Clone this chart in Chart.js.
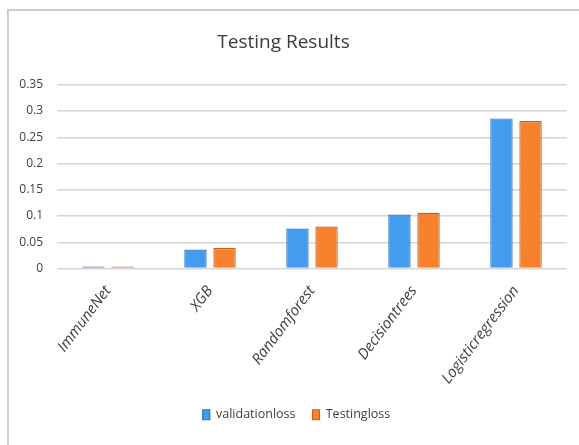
<!DOCTYPE html>
<html>
<head>
<meta charset="utf-8">
<script src="https://cdn.jsdelivr.net/npm/chart.js@4/dist/chart.umd.min.js"></script>
<style>
  html, body { margin: 0; padding: 0; background: #ffffff; }
  #wrap { position: relative; width: 579px; height: 445px; }
</style>
</head>
<body>
<div id="wrap"><canvas id="c" width="579" height="445"></canvas></div>
<script>
// Loss per model
const models = ['ImmuneNet', 'XGB', 'Randomforest', 'Decisiontrees', 'Logisticregression'];
const validationLoss = [0.004, 0.036, 0.076, 0.103, 0.286];
const testingLoss = [0.004, 0.039, 0.080, 0.106, 0.281];
const yTicks = [0, 0.05, 0.1, 0.15, 0.2, 0.25, 0.3, 0.35];

const FONT = "'Open Sans', 'DejaVu Sans', sans-serif";

// Light grey frame around the chart (left and top edges)
const framePlugin = {
  id: 'frame',
  beforeDraw(chart) {
    const ctx = chart.ctx;
    ctx.save();
    ctx.strokeStyle = '#cdcdcd';
    ctx.lineWidth = 2;
    ctx.beginPath();
    ctx.moveTo(8, 445);
    ctx.lineTo(8, 10);
    ctx.lineTo(579, 10);
    ctx.stroke();
    ctx.restore();
  }
};

// Centre the legend under the framed area rather than the padded canvas
const legendShift = {
  id: 'legendShift',
  afterLayout(chart) {
    if (chart.legend) {
      chart.legend.left += 13;
      chart.legend.right += 13;
    }
  }
};

new Chart(document.getElementById('c'), {
  type: 'bar',
  data: {
    labels: models,
    datasets: [
      {
        label: 'validationloss',
        data: validationLoss,
        backgroundColor: '#439cee',
        borderColor: '#2c6fc0',
        borderWidth: 1.2,
        categoryPercentage: 0.57,
        barPercentage: 0.77
      },
      {
        label: 'Testingloss',
        data: testingLoss,
        backgroundColor: '#f7812c',
        borderColor: '#c8601c',
        borderWidth: 1.2,
        categoryPercentage: 0.57,
        barPercentage: 0.77
      }
    ]
  },
  options: {
    responsive: false,
    animation: false,
    devicePixelRatio: 1,
    layout: { padding: { left: 0, right: 12, top: 31, bottom: 14 } },
    plugins: {
      title: {
        display: true,
        text: 'Testing Results',
        color: '#3a3a3a',
        font: { family: FONT, size: 19, weight: 'normal' },
        padding: { top: 0, bottom: 31 }
      },
      legend: {
        position: 'bottom',
        labels: {
          boxWidth: 7,
          boxHeight: 10,
          color: '#404040',
          font: { family: FONT, size: 12.5 },
          padding: 17
        }
      },
      tooltip: { enabled: false }
    },
    scales: {
      x: {
        grid: { display: false },
        border: { display: false },
        ticks: {
          color: '#404040',
          font: { family: FONT, size: 15, style: 'italic' },
          minRotation: 53,
          maxRotation: 53,
          padding: 6
        },
        afterFit(scale) { scale.height = 123; }
      },
      y: {
        min: 0,
        max: 0.35,
        afterBuildTicks(scale) {
          scale.ticks = yTicks.map(v => ({ value: v }));
        },
        grid: { color: '#d6d6d6', lineWidth: 1.5, drawTicks: false },
        border: { display: false },
        ticks: {
          color: '#404040',
          font: { family: FONT, size: 12 },
          padding: 14,
          callback: v => String(Number(v.toFixed(2)))
        },
        afterFit(scale) { scale.width = 57; }
      }
    }
  },
  plugins: [framePlugin, legendShift]
});
</script>
</body>
</html>
